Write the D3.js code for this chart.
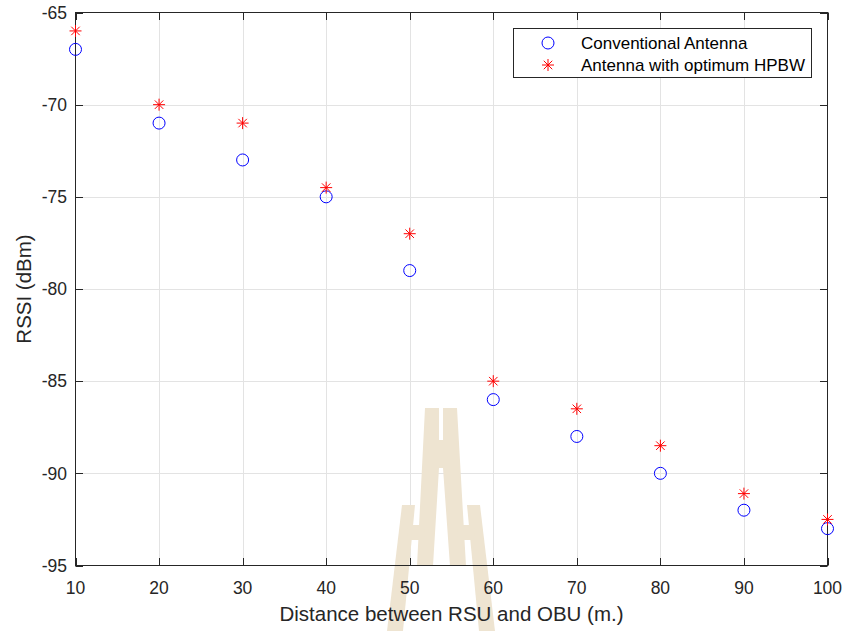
<!DOCTYPE html>
<html>
<head>
<meta charset="utf-8">
<script src="https://cdn.jsdelivr.net/npm/d3@7"></script>
<style>
  body { margin: 0; background: #fff; }
  svg { display: block; font-family: "Liberation Sans", Arial, sans-serif; }
</style>
</head>
<body>
<div id="chart"></div>
<script>
// ── Data ──
const distances = [10, 20, 30, 40, 50, 60, 70, 80, 90, 100];
const rssiConventional = [-67, -71, -73, -75, -79, -86, -88, -90, -92, -93];
const rssiOptimum = [-66, -70, -71, -74.5, -77, -85, -86.5, -88.5, -91.1, -92.5];
const xTicks = [10, 20, 30, 40, 50, 60, 70, 80, 90, 100];
const yTicks = [-95, -90, -85, -80, -75, -70, -65];
const seriesNames = ["Conventional Antenna", "Antenna with optimum HPBW"];

const WIDTH = 847;
const HEIGHT = 631;
const margin = { left: 75.5, right: 19.5, top: 12.5, bottom: 65 };
const AXIS = "#262626";

const svg = d3.select("#chart").append("svg")
    .attr("width", WIDTH)
    .attr("height", HEIGHT);

const x = d3.scaleLinear().domain([10, 100]).range([margin.left, WIDTH - margin.right]);
const y = d3.scaleLinear().domain([-95, -65]).range([HEIGHT - margin.bottom - 0.5, margin.top]);

const [x0, x1] = x.range();
const [y0, y1] = y.range(); // y0 bottom, y1 top

// ── Grid ──
const grid = svg.append("g").attr("stroke", "#e3e3e3").attr("stroke-width", 1);
grid.selectAll("line.gx").data(xTicks.slice(1, -1)).enter().append("line")
    .attr("x1", d => Math.round(x(d)) + 0.5).attr("x2", d => Math.round(x(d)) + 0.5)
    .attr("y1", y1).attr("y2", y0);
grid.selectAll("line.gy").data(yTicks.slice(1, -1)).enter().append("line")
    .attr("y1", d => Math.round(y(d)) + 0.5).attr("y2", d => Math.round(y(d)) + 0.5)
    .attr("x1", x0).attr("x2", x1);

// ── Watermark logo (background decoration in the source image) ──
const wm = svg.append("g").attr("fill", "#eee4d1");
const wmShapes = [
    [[425,408],[439,408],[439,440],[443,440],[443,408],[457,408],[466,566],[450,566],[443,468],[439,468],[433,566],[417,566]],
    [[402,505],[415,505],[403,631],[387,631]],
    [[467,505],[480,505],[495,631],[479,631]],
    [[408,525],[425,525],[424,540],[407,540]],
    [[457,525],[474,525],[475,540],[458,540]]
];
wm.selectAll("polygon").data(wmShapes).enter().append("polygon")
    .attr("points", d => d.map(p => p.join(",")).join(" "));

// ── Axes (box with inward ticks, MATLAB style) ──
const tickLen = 7.5;
const axes = svg.append("g").attr("stroke", AXIS).attr("stroke-width", 1).attr("fill", "none");
axes.append("rect").attr("x", x0).attr("y", y1).attr("width", x1 - x0).attr("height", y0 - y1);
xTicks.forEach(t => {
    const px = Math.round(x(t)) + 0.5;
    axes.append("line").attr("x1", px).attr("x2", px).attr("y1", y0).attr("y2", y0 - tickLen);
    axes.append("line").attr("x1", px).attr("x2", px).attr("y1", y1).attr("y2", y1 + tickLen);
});
yTicks.forEach(t => {
    const py = Math.round(y(t)) + 0.5;
    axes.append("line").attr("y1", py).attr("y2", py).attr("x1", x0).attr("x2", x0 + tickLen);
    axes.append("line").attr("y1", py).attr("y2", py).attr("x1", x1).attr("x2", x1 - tickLen);
});

// Tick labels
svg.append("g").selectAll("text").data(xTicks).enter().append("text")
    .attr("x", d => x(d)).attr("y", 594)
    .attr("text-anchor", "middle")
    .attr("font-size", 17.5).attr("fill", AXIS)
    .text(d => d);
svg.append("g").selectAll("text").data(yTicks).enter().append("text")
    .attr("x", 67).attr("y", d => y(d) + 6.3)
    .attr("text-anchor", "end")
    .attr("font-size", 17.5).attr("fill", AXIS)
    .text(d => d);

// Axis titles
svg.append("text")
    .attr("x", (x0 + x1) / 2).attr("y", 621)
    .attr("text-anchor", "middle")
    .attr("font-size", 20.5).attr("fill", AXIS)
    .text("Distance between RSU and OBU (m.)");
svg.append("text")
    .attr("transform", `translate(31,${(y0 + y1) / 2}) rotate(-90)`)
    .attr("text-anchor", "middle")
    .attr("font-size", 20.5).attr("fill", AXIS)
    .text("RSSI (dBm)");

// ── Markers ──
function starPath(s) {
    const d = s * 0.7071;
    return `M${-s},0H${s}M0,${-s}V${s}M${-d},${-d}L${d},${d}M${-d},${d}L${d},${-d}`;
}

svg.append("g").selectAll("circle")
    .data(distances.map((d, i) => [d, rssiConventional[i]]))
    .enter().append("circle")
    .attr("cx", d => x(d[0])).attr("cy", d => y(d[1]))
    .attr("r", 6)
    .attr("fill", "none").attr("stroke", "#0000ff").attr("stroke-width", 1);

svg.append("g").selectAll("path")
    .data(distances.map((d, i) => [d, rssiOptimum[i]]))
    .enter().append("path")
    .attr("transform", d => `translate(${x(d[0])},${y(d[1])})`)
    .attr("d", starPath(6))
    .attr("fill", "none").attr("stroke", "#ff0000").attr("stroke-width", 1);

// ── Legend ──
const legend = svg.append("g");
legend.append("rect")
    .attr("x", 513.5).attr("y", 28.5).attr("width", 298).attr("height", 49)
    .attr("fill", "#fff").attr("stroke", AXIS).attr("stroke-width", 1);
legend.append("circle").attr("cx", 548).attr("cy", 43).attr("r", 6)
    .attr("fill", "none").attr("stroke", "#0000ff");
legend.append("path").attr("transform", "translate(548,65)").attr("d", starPath(6))
    .attr("fill", "none").attr("stroke", "#ff0000");
legend.selectAll("text.lbl").data(seriesNames).enter().append("text")
    .attr("x", 581).attr("y", (d, i) => 49 + i * 22)
    .attr("font-size", 17).attr("fill", "#000")
    .text(d => d);
</script>
</body>
</html>
